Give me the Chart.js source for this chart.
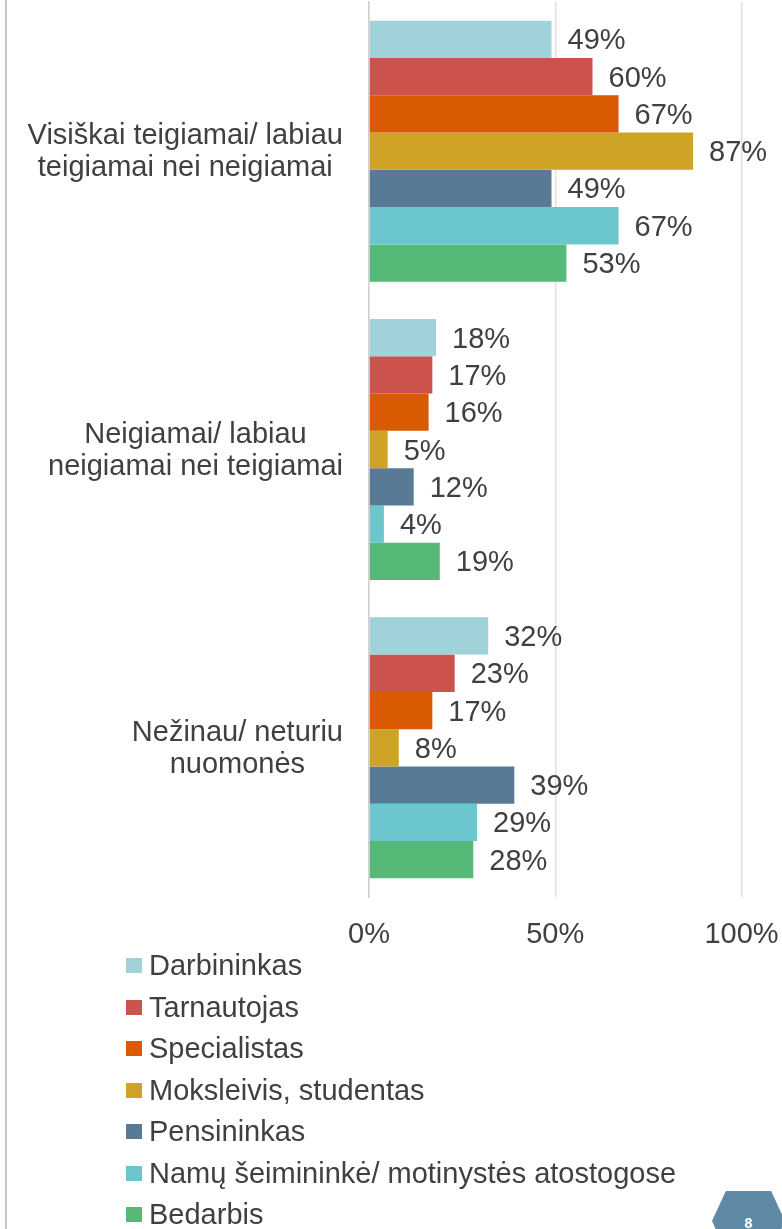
<!DOCTYPE html>
<html>
<head>
  <meta charset="utf-8">
  <title>Požiūris pagal užimtumą</title>
  <script src="https://cdn.jsdelivr.net/npm/chart.js"></script>
  <style>
    body { margin: 0; background: #fff; }
    #wrap { position: relative; width: 782px; height: 1229px; overflow: hidden; }
    #wrap canvas { position: absolute; left: 0; top: 0; }
    #border { position: absolute; left: 5px; top: 0; width: 2px; height: 1229px; background: #c8c8c8; }
    #legend { position: absolute; left: 126px; top: 0; font: 29px "Liberation Sans", Arial, sans-serif; color: #404040; }
    .item { position: absolute; left: 0; height: 41px; display: flex; align-items: center; white-space: nowrap; }
    .box { width: 16px; height: 15px; margin-right: 7px; }
    #page { position: absolute; left: 712px; top: 1191px; width: 73px; height: 38px; background: #5f8aa5;
            clip-path: polygon(19% 0, 81% 0, 100% 79%, 95% 100%, 5% 100%, 0 79%);
            color: #fff; font: bold 14px "Liberation Sans", Arial, sans-serif; text-align: center; line-height: 14px; box-sizing: border-box; padding-top: 25px; }
  </style>
</head>
<body>
  <div id="wrap">
    <canvas id="chart" width="782" height="1229"></canvas>
    <div id="border"></div>
    <div id="legend"></div>
    <div id="page">8</div>
  </div>
  <script>
    const categories = [
      ['Visiškai teigiamai/ labiau', 'teigiamai nei neigiamai'],
      ['Neigiamai/ labiau', 'neigiamai nei teigiamai'],
      ['Nežinau/ neturiu', 'nuomonės']
    ];
    const seriesNames = ['Darbininkas', 'Tarnautojas', 'Specialistas', 'Moksleivis, studentas',
      'Pensininkas', 'Namų šeimininkė/ motinystės atostogose', 'Bedarbis'];
    const darbininkas = [49, 18, 32];
    const tarnautojas = [60, 17, 23];
    const specialistas = [67, 16, 17];
    const moksleivis = [87, 5, 8];
    const pensininkas = [49, 12, 39];
    const seimininke = [67, 4, 29];
    const bedarbis = [53, 19, 28];
    const xTicks = [0, 50, 100];

    const seriesValues = [darbininkas, tarnautojas, specialistas, moksleivis, pensininkas, seimininke, bedarbis];
    const colors = ['#9fd3d9', '#cb534c', '#d95a00', '#cfa325', '#587a94', '#6cc6ce', '#56b978'];

    const FONT = '"Liberation Sans", Arial, sans-serif';
    const TEXT = '#404040';
    const SIZE = 29;

    // value labels right of each bar
    const valueLabels = {
      id: 'valueLabels',
      afterDatasetsDraw(chart) {
        const ctx = chart.ctx;
        ctx.save();
        ctx.font = SIZE + 'px ' + FONT;
        ctx.fillStyle = TEXT;
        ctx.textAlign = 'left';
        ctx.textBaseline = 'middle';
        chart.data.datasets.forEach((ds, i) => {
          chart.getDatasetMeta(i).data.forEach((bar, j) => {
            ctx.fillText(ds.data[j] + '%', bar.x + 16, bar.y + 2);
          });
        });
        ctx.restore();
      }
    };

    // category labels: each block right-aligned, lines centred inside it
    const categoryLabels = {
      id: 'categoryLabels',
      afterDraw(chart) {
        const ctx = chart.ctx;
        const yScale = chart.scales.y;
        const right = chart.chartArea.left - 26;
        ctx.save();
        ctx.font = SIZE + 'px ' + FONT;
        ctx.fillStyle = TEXT;
        ctx.textAlign = 'center';
        ctx.textBaseline = 'alphabetic';
        categories.forEach((lines, i) => {
          const yc = yScale.getPixelForValue(i);
          const w = Math.max(...lines.map(l => ctx.measureText(l).width));
          const cx = right - w / 2;
          lines.forEach((l, k) => {
            ctx.fillText(l, cx, yc + (k - (lines.length - 1) / 2) * 32 + 9);
          });
        });
        ctx.restore();
      }
    };

    const datasets = seriesNames.map((name, i) => ({
      label: name,
      data: seriesValues[i],
      backgroundColor: colors[i],
      borderWidth: 0,
      categoryPercentage: 0.875,
      barPercentage: 1
    }));

    new Chart(document.getElementById('chart').getContext('2d'), {
      type: 'bar',
      data: { labels: categories, datasets: datasets },
      options: {
        responsive: false,
        animation: false,
        indexAxis: 'y',
        layout: { padding: { top: 2, right: 40.5, bottom: 272, left: 0 } },
        plugins: { legend: { display: false }, tooltip: { enabled: false } },
        scales: {
          x: {
            min: 0, max: 100,
            afterBuildTicks: s => { s.ticks = xTicks.map(v => ({ value: v })); },
            ticks: { callback: v => v + '%', font: { size: SIZE, family: FONT }, color: TEXT, padding: 21, maxRotation: 0 },
            grid: { color: '#e0e0e0', lineWidth: 1.5, drawTicks: false },
            border: { display: false },
            afterFit: s => { s.height = 60; s.paddingRight = 0; s.paddingLeft = 0; }
          },
          y: {
            ticks: { display: false },
            grid: { display: false },
            border: { color: '#d0d0d0', width: 1.5 },
            afterFit: s => { s.width = 369; }
          }
        }
      },
      plugins: [valueLabels, categoryLabels]
    });

    // legend, one series per row
    const legend = document.getElementById('legend');
    seriesNames.forEach((name, i) => {
      const item = document.createElement('div');
      item.className = 'item';
      item.style.top = (945 + i * 41.5) + 'px';
      const box = document.createElement('span');
      box.className = 'box';
      box.style.background = colors[i];
      item.appendChild(box);
      item.appendChild(document.createTextNode(name));
      legend.appendChild(item);
    });
  </script>
</body>
</html>
